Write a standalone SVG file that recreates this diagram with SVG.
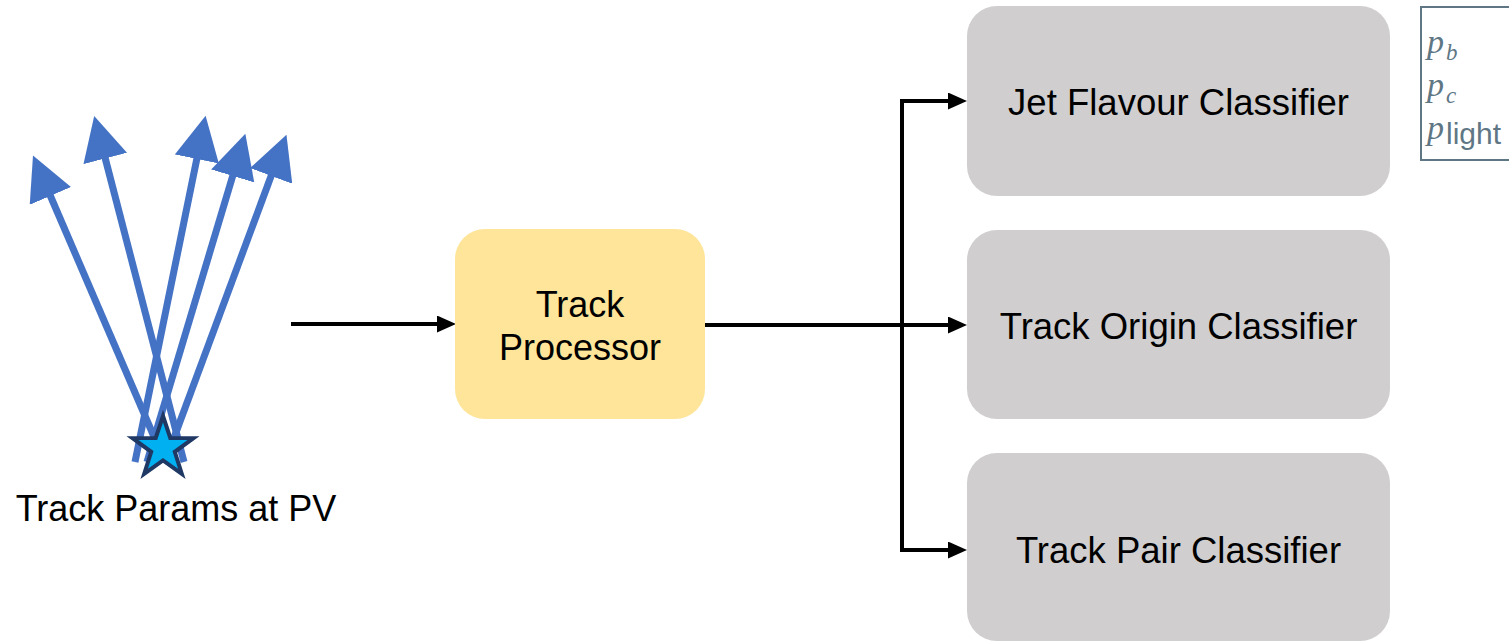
<svg xmlns="http://www.w3.org/2000/svg" width="1509" height="641" viewBox="0 0 1509 641">
  <style>
    .label { font-family: "Liberation Sans", Arial, Helvetica, sans-serif; fill: #000; text-anchor: middle; }
    .big { font-size: 36px; }
    .cls { font-size: 36.5px; }
    .classifier { fill: #d0cecf; }
    .processor { fill: #fee599; }
    .wire { stroke: #000; stroke-width: 4; fill: none; }
    .track { stroke: #4472c4; stroke-width: 7; fill: none; }
    .legend-box { fill: #fff; stroke: #5f7784; stroke-width: 2; }
    .sym { font-family: "Liberation Serif", "Times New Roman", serif; font-style: italic; fill: #5f7784; }
    .sub-sans { font-family: "Liberation Sans", Arial, sans-serif; fill: #5f7784; }
  </style>
  <defs>
    <marker id="head-black" markerUnits="userSpaceOnUse" viewBox="0 0 19 17" refX="0" refY="8.5" markerWidth="19" markerHeight="17" orient="auto">
      <path d="M0,0 L19,8.5 L0,17 Z" fill="#000"/>
    </marker>
    <marker id="head-blue" markerUnits="userSpaceOnUse" viewBox="0 0 44 45" refX="1" refY="22.5" markerWidth="44" markerHeight="45" orient="auto">
      <path d="M0,0 L44,22.5 L0,45 Z" fill="#4472c4"/>
    </marker>
  </defs>

  <!-- tracks fanning out from the primary vertex -->
  <g id="tracks">
    <line class="track" x1="164" y1="460" x2="50" y2="195" marker-end="url(#head-blue)"/>
    <line class="track" x1="184" y1="462" x2="105" y2="157.5" marker-end="url(#head-blue)"/>
    <line class="track" x1="135" y1="462" x2="197" y2="158" marker-end="url(#head-blue)"/>
    <line class="track" x1="147" y1="462" x2="233" y2="175" marker-end="url(#head-blue)"/>
    <line class="track" x1="165" y1="462" x2="271.5" y2="175" marker-end="url(#head-blue)"/>
  </g>

  <!-- primary vertex marker -->
  <g id="pv">
    <polygon points="163,416 170.27,437.99 193.44,438.11 174.78,451.84 181.81,473.89 163,460.4 144.19,473.89 151.22,451.84 132.56,438.11 155.73,437.99" fill="#00b0f0" stroke="#1f3864" stroke-width="4" stroke-linejoin="miter"/>
    <text class="label big" x="176" y="521">Track Params at PV</text>
  </g>

  <g id="connectors">
    <line class="wire" x1="291" y1="324" x2="437" y2="324" marker-end="url(#head-black)"/>
    <line class="wire" x1="705" y1="325" x2="948" y2="325" marker-end="url(#head-black)"/>
    <line class="wire" x1="902" y1="99" x2="902" y2="552"/>
    <line class="wire" x1="900" y1="101" x2="948" y2="101" marker-end="url(#head-black)"/>
    <line class="wire" x1="900" y1="550" x2="948" y2="550" marker-end="url(#head-black)"/>
  </g>

  <g id="track-processor">
    <rect class="processor" x="455" y="229" width="250" height="190" rx="30"/>
    <text class="label big" x="580" y="317">Track</text>
    <text class="label big" x="580" y="360">Processor</text>
  </g>

  <g id="jet-flavour-classifier">
    <rect class="classifier" x="967" y="6" width="423" height="190" rx="30"/>
    <text class="label cls" x="1178.5" y="115">Jet Flavour Classifier</text>
  </g>

  <g id="track-origin-classifier">
    <rect class="classifier" x="967" y="230" width="423" height="189" rx="30"/>
    <text class="label cls" x="1178.5" y="339">Track Origin Classifier</text>
  </g>

  <g id="track-pair-classifier">
    <rect class="classifier" x="967" y="453" width="423" height="188" rx="30"/>
    <text class="label cls" x="1178.5" y="563">Track Pair Classifier</text>
  </g>

  <!-- output probabilities -->
  <g id="outputs">
    <rect class="legend-box" x="1421" y="7" width="100" height="153"/>
    <text class="sym" x="1427" y="53" font-size="34">p</text>
    <text class="sym" x="1446" y="60" font-size="23">b</text>
    <text class="sym" x="1427" y="96" font-size="34">p</text>
    <text class="sym" x="1446" y="103" font-size="23">c</text>
    <text class="sym" x="1427" y="139" font-size="34">p</text>
    <text class="sub-sans" x="1446" y="144" font-size="30">light</text>
  </g>
</svg>
